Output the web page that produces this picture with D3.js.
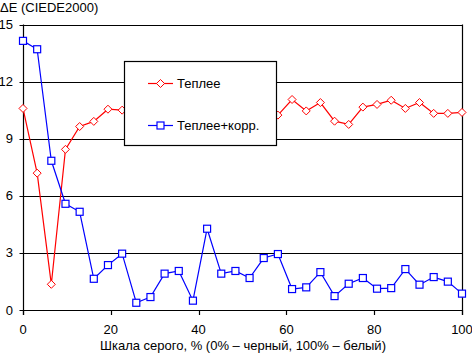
<!DOCTYPE html>
<html><head><meta charset="utf-8">
<script src="https://cdn.jsdelivr.net/npm/d3@7"></script>
<style>body{margin:0;background:#fff}svg{display:block}text{font-family:"Liberation Sans",Arial,sans-serif;font-size:13px;fill:#000}</style>
</head><body>
<svg id="c" width="472" height="353"></svg>
<script>
const xVals = d3.range(32).map(i => i * 100 / 31);
const warm = [10.59,7.19,1.35,8.44,9.64,9.91,10.55,10.5,10.6,10.7,10.5,10.6,10.8,10.6,10.5,10.7,10.6,10.4,10.24,11.06,10.46,10.9,9.92,9.75,10.66,10.8,11.02,10.59,10.9,10.33,10.33,10.38];
const warmCorr = [14.14,13.7,7.84,5.58,5.16,1.64,2.36,2.96,0.38,0.68,1.91,2.05,0.49,4.27,1.91,2.05,1.68,2.73,2.94,1.10,1.19,1.99,0.73,1.38,1.68,1.12,1.15,2.15,1.33,1.73,1.49,0.86];
const xTicks = [0,20,40,60,80,100];
const yTicks = [0,3,6,9,12,15];
const seriesNames = ["Теплее","Теплее+корр."];
const yTitle = "ΔE (CIEDE2000)";
const xTitle = "Шкала серого, % (0% – черный, 100% – белый)";

const svg = d3.select("#c");
const x = d3.scaleLinear().domain([0,100]).range([23,462]);
const y = d3.scaleLinear().domain([0,15]).range([310,24.5]);

svg.append("g").selectAll("line").data(yTicks).join("line")
  .attr("x1",19.5).attr("x2",462).attr("y1",d=>Math.round(y(d))+0.5).attr("y2",d=>Math.round(y(d))+0.5)
  .attr("stroke","#000").attr("stroke-width",1.2);
svg.append("g").selectAll("text").data(yTicks).join("text")
  .attr("x",13).attr("y",d=>y(d)+4.5).attr("text-anchor","end").text(d=>d);
svg.append("line").attr("x1",23.5).attr("x2",23.5).attr("y1",y(15)).attr("y2",315).attr("stroke","#000").attr("stroke-width",1.2);
svg.append("line").attr("x1",462.5).attr("x2",462.5).attr("y1",y(15)).attr("y2",315).attr("stroke","#000").attr("stroke-width",1.2);
svg.append("g").selectAll("line").data(xTicks).join("line")
  .attr("x1",d=>Math.round(x(d))+0.5).attr("x2",d=>Math.round(x(d))+0.5).attr("y1",310).attr("y2",315)
  .attr("stroke","#000").attr("stroke-width",1.2);
svg.append("g").selectAll("text").data(xTicks).join("text")
  .attr("x",d=>x(d)).attr("y",334).attr("text-anchor","middle").text(d=>d);

svg.append("text").attr("x",0).attr("y",11.5).text(yTitle);
svg.append("text").attr("x",243).attr("y",350).attr("text-anchor","middle").text(xTitle);

const line = d3.line().x((d,i)=>x(xVals[i])).y(d=>y(d));
function diamond(g, cx, cy){
  g.append("path").attr("d",`M${cx},${cy-4}L${cx+4},${cy}L${cx},${cy+4}L${cx-4},${cy}Z`)
    .attr("fill","#fff").attr("stroke","#f00").attr("stroke-width",1);
}
function square(g, cx, cy){
  g.append("rect").attr("x",cx-3.5).attr("y",cy-3.5).attr("width",7).attr("height",7)
    .attr("fill","#fff").attr("stroke","#00f").attr("stroke-width",1.2);
}
const gRed = svg.append("g");
gRed.append("path").datum(warm).attr("d",line).attr("fill","none").attr("stroke","#f00").attr("stroke-width",1.2);
warm.forEach((v,i)=>diamond(gRed, x(xVals[i]), y(v)));
const gBlue = svg.append("g");
gBlue.append("path").datum(warmCorr).attr("d",line).attr("fill","none").attr("stroke","#00f").attr("stroke-width",1.2);
warmCorr.forEach((v,i)=>square(gBlue, x(xVals[i]), y(v)));

const lg = svg.append("g");
lg.append("rect").attr("x",124.5).attr("y",61.5).attr("width",152).attr("height",84).attr("fill","#fff").attr("stroke","#000").attr("stroke-width",1.2);
lg.append("line").attr("x1",148).attr("x2",173).attr("y1",83.5).attr("y2",83.5).attr("stroke","#f00").attr("stroke-width",1.2);
diamond(lg,160.5,83.5);
lg.append("text").attr("x",177).attr("y",88).text(seriesNames[0]);
lg.append("line").attr("x1",148).attr("x2",173).attr("y1",125.5).attr("y2",125.5).attr("stroke","#00f").attr("stroke-width",1.2);
square(lg,160.5,125.5);
lg.append("text").attr("x",177).attr("y",130).text(seriesNames[1]);
</script>
</body></html>
